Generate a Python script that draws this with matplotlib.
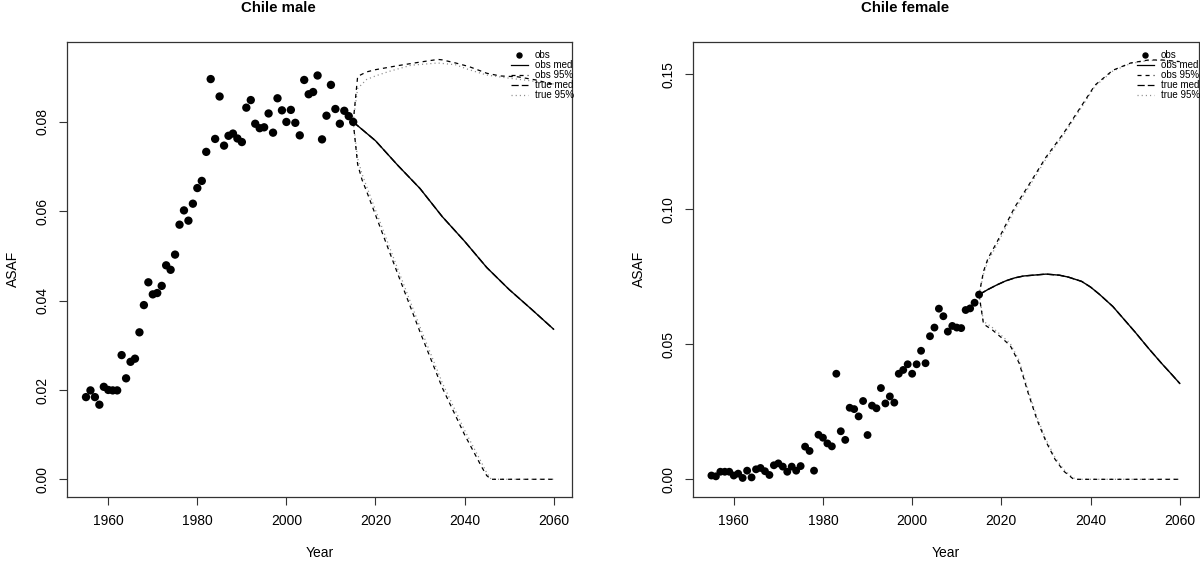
import matplotlib
matplotlib.use("Agg")
import matplotlib.pyplot as plt
from matplotlib.lines import Line2D

plt.rcParams['font.family'] = ['Liberation Sans', 'DejaVu Sans']
plt.rcParams['lines.scale_dashes'] = False

# ---------------- data ----------------
obs_years = list(range(1955, 2016))

male_obs = [0.0184, 0.0199, 0.0184, 0.0167, 0.0207, 0.0200, 0.0199, 0.0199, 0.0278, 0.0226,
            0.0263, 0.0270, 0.0329, 0.0390, 0.0441, 0.0414, 0.0417, 0.0433, 0.0479, 0.0469,
            0.0503, 0.0570, 0.0602, 0.0579, 0.0617, 0.0652, 0.0668, 0.0733, 0.0896, 0.0762,
            0.0857, 0.0747, 0.0769, 0.0774, 0.0763, 0.0755, 0.0832, 0.0849, 0.0796, 0.0786,
            0.0788, 0.0819, 0.0776, 0.0853, 0.0826, 0.0800, 0.0827, 0.0798, 0.0770, 0.0894,
            0.0862, 0.0867, 0.0904, 0.0761, 0.0814, 0.0883, 0.0829, 0.0796, 0.0825, 0.0813,
            0.0800]

female_obs = [0.0014, 0.0011, 0.0028, 0.0028, 0.0028, 0.0014, 0.0021, 0.0005, 0.0032, 0.0007,
              0.0037, 0.0042, 0.0030, 0.0016, 0.0052, 0.0059, 0.0047, 0.0028, 0.0047, 0.0032,
              0.0049, 0.0121, 0.0105, 0.0032, 0.0165, 0.0154, 0.0133, 0.0122, 0.0391, 0.0178,
              0.0146, 0.0265, 0.0260, 0.0233, 0.0290, 0.0164, 0.0273, 0.0263, 0.0338, 0.0281,
              0.0307, 0.0284, 0.0391, 0.0405, 0.0426, 0.0391, 0.0426, 0.0476, 0.0430, 0.0530,
              0.0562, 0.0632, 0.0604, 0.0547, 0.0568, 0.0562, 0.0560, 0.0627, 0.0633, 0.0654,
              0.0684]

# male projections
m_med_years = [2015, 2020, 2025, 2030, 2035, 2040, 2045, 2050, 2055, 2060]
m_obs_med = [0.0800, 0.0758, 0.0703, 0.0651, 0.0588, 0.0533, 0.0474, 0.0425, 0.0381, 0.0336]
m_true_med = [0.0800, 0.0758, 0.0703, 0.0651, 0.0588, 0.0533, 0.0474, 0.0425, 0.0381, 0.0336]

m_up_years = [2015, 2016, 2018, 2020, 2025, 2030, 2034, 2035, 2038, 2041, 2045, 2048, 2052, 2056, 2060]
m_obs_up = [0.0800, 0.0902, 0.0912, 0.0917, 0.0926, 0.0934, 0.0940, 0.0939, 0.0932, 0.0924,
            0.0909, 0.0903, 0.0901, 0.0894, 0.0884]
m_tup_years = [2015, 2016, 2018, 2020, 2023, 2028, 2034, 2038, 2041, 2045, 2050, 2055, 2060]
m_true_up = [0.0800, 0.0875, 0.0895, 0.0903, 0.0913, 0.0927, 0.0932, 0.0928, 0.0917, 0.0905,
             0.0898, 0.0892, 0.0885]

m_lo_years = [2015, 2016, 2017, 2018, 2020, 2025, 2030, 2035, 2040, 2044, 2045, 2046, 2060]
m_obs_lo = [0.0800, 0.0705, 0.0670, 0.0645, 0.0592, 0.0460, 0.0330, 0.0205, 0.0100, 0.0025,
            0.0008, 0.0, 0.0]
m_true_lo = [0.0800, 0.0718, 0.0683, 0.0656, 0.0603, 0.0471, 0.0341, 0.0216, 0.0110, 0.0034,
             0.0014, 0.0, 0.0]

# female projections
f_med_years = [2015, 2017, 2019, 2021, 2023, 2025, 2030, 2033, 2035, 2038, 2040, 2042, 2045,
               2048, 2050, 2053, 2056, 2058, 2060]
f_obs_med = [0.0684, 0.0703, 0.0720, 0.0735, 0.0746, 0.0753, 0.0760, 0.0756, 0.0749, 0.0733,
             0.0712, 0.0685, 0.0640, 0.0583, 0.0545, 0.0485, 0.0428, 0.0392, 0.0355]
f_true_med = [0.0684, 0.0703, 0.0720, 0.0735, 0.0746, 0.0753, 0.0760, 0.0756, 0.0749, 0.0733,
              0.0712, 0.0685, 0.0640, 0.0583, 0.0545, 0.0485, 0.0428, 0.0392, 0.0355]

f_up_years = [2015, 2016, 2017, 2019, 2023, 2026, 2030, 2034, 2038, 2041, 2045, 2049, 2053, 2056, 2060]
f_obs_up = [0.0684, 0.0770, 0.0818, 0.0878, 0.1008, 0.1086, 0.1193, 0.1283, 0.1384, 0.1460,
            0.1515, 0.1542, 0.1553, 0.1553, 0.1547]
f_true_up = [0.0684, 0.0760, 0.0808, 0.0868, 0.0998, 0.1078, 0.1186, 0.1277, 0.1378, 0.1456,
             0.1512, 0.1540, 0.1551, 0.1552, 0.1546]

f_lo_years = [2015, 2016, 2018, 2020, 2022, 2024, 2026, 2028, 2030, 2032, 2034, 2036, 2037, 2060]
f_obs_lo = [0.0684, 0.0575, 0.0553, 0.0525, 0.0495, 0.0430, 0.0320, 0.0220, 0.0140, 0.0075,
            0.0030, 0.0003, 0.0, 0.0]
f_true_lo = [0.0684, 0.0585, 0.0562, 0.0533, 0.0503, 0.0440, 0.0330, 0.0230, 0.0148, 0.0082,
             0.0036, 0.0006, 0.0, 0.0]

x_ticks = [1960, 1980, 2000, 2020, 2040, 2060]
male_yticks = [0.00, 0.02, 0.04, 0.06, 0.08]
female_yticks = [0.00, 0.05, 0.10, 0.15]
legend_labels = ["obs", "obs med", "obs 95%", "true med", "true 95%"]

# ---------------- styles ----------------
DASH_OBS95 = (0, (2.9, 2.9))
DASH_TMED = (0, (5.2, 2.2))
DASH_T95 = (0, (0.8, 2.2))
GRAY = "#8c8c8c"

W, H = 1200, 564
fig = plt.figure(figsize=(W / 100, H / 100), dpi=100)

bottom = 1 - 496.7 / H
top = 1 - 42 / H
ax1 = fig.add_axes([67.3 / W, bottom, (572.3 - 67.3) / W, top - bottom])
ax2 = fig.add_axes([692.7 / W, bottom, (1198.5 - 692.7) / W, top - bottom])


def draw(ax, obs, med_y, omed, tmed, up_y, oup, tup_y, tup, lo_y, olo, tlo, yticks, ylim, msize):
    ax.scatter(obs_years, obs, s=msize, color="black", edgecolors="none", zorder=5)
    ax.plot(med_y, tmed, color="black", lw=1.0, linestyle=DASH_TMED)
    ax.plot(med_y, omed, color="black", lw=1.0, linestyle="-")
    ax.plot(tup_y, tup, color=GRAY, lw=0.9, linestyle=DASH_T95)
    ax.plot(lo_y, tlo, color=GRAY, lw=0.9, linestyle=DASH_T95)
    ax.plot(up_y, oup, color="black", lw=0.9, linestyle=DASH_OBS95)
    ax.plot(lo_y, olo, color="black", lw=0.9, linestyle=DASH_OBS95)
    ax.set_xlim(1950.8, 2064.2)
    ax.set_ylim(*ylim)
    ax.set_xticks(x_ticks)
    ax.set_xticklabels([str(t) for t in x_ticks])
    ax.set_yticks(yticks)
    ax.set_yticklabels(["%.2f" % t for t in yticks], rotation=90, va="center")
    ax.tick_params(axis="both", direction="out", length=5.6, width=0.8, labelsize=10,
                   color="#333333")
    ax.tick_params(axis="x", pad=7)
    ax.tick_params(axis="y", pad=7)
    for sp in ax.spines.values():
        sp.set_linewidth(0.9)
        sp.set_color("#333333")
    handles = [
        Line2D([], [], color="black", marker="o", linestyle="none", markersize=3.6),
        Line2D([], [], color="black", lw=0.9, linestyle="-"),
        Line2D([], [], color="black", lw=0.9, linestyle=DASH_OBS95),
        Line2D([], [], color="black", lw=0.9, linestyle=DASH_TMED),
        Line2D([], [], color=GRAY, lw=0.9, linestyle=DASH_T95),
    ]
    ax.legend(handles, legend_labels, loc="upper right", bbox_to_anchor=(1.003, 0.982),
              frameon=False, fontsize=7, handlelength=1.75, handletextpad=0.72,
              labelspacing=0.0, borderpad=0.0, borderaxespad=0.0)


draw(ax1, male_obs, m_med_years, m_obs_med, m_true_med, m_up_years, m_obs_up,
     m_tup_years, m_true_up, m_lo_years, m_obs_lo, m_true_lo, male_yticks,
     (-0.0039, 0.0979), 36)
draw(ax2, female_obs, f_med_years, f_obs_med, f_true_med, f_up_years, f_obs_up,
     f_up_years, f_true_up, f_lo_years, f_obs_lo, f_true_lo, female_yticks,
     (-0.00644, 0.16196), 32)

fig.text(278.7 / W, 1 - 8 / H, "Chile male", ha="center", va="center",
         fontsize=10.8, fontweight="bold")
fig.text(904.6 / W, 1 - 8 / H, "Chile female", ha="center", va="center",
         fontsize=10.8, fontweight="bold")
fig.text(319.8 / W, 1 - 553 / H, "Year", ha="center", va="center", fontsize=10)
fig.text(945.6 / W, 1 - 553 / H, "Year", ha="center", va="center", fontsize=10)
fig.text(13 / W, 1 - 269 / H, "ASAF", ha="center", va="center", fontsize=10, rotation=90)
fig.text(639 / W, 1 - 269 / H, "ASAF", ha="center", va="center", fontsize=10, rotation=90)

fig.savefig("out.png", dpi=100)
